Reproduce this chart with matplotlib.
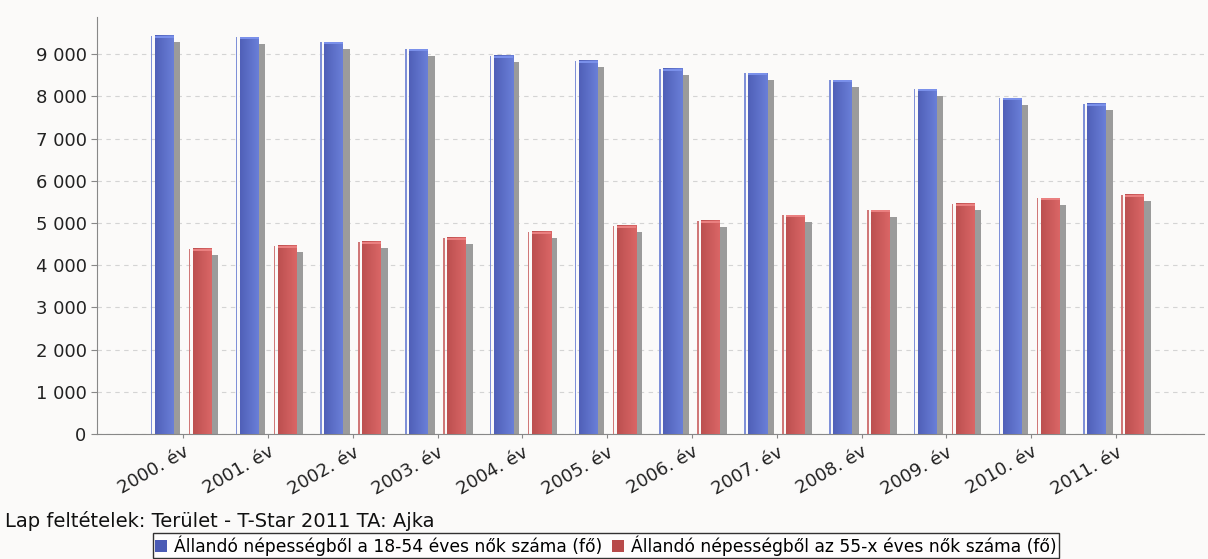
import matplotlib.pyplot as plt
import numpy as np
from matplotlib.patches import Patch, Rectangle
from matplotlib.colors import LinearSegmentedColormap
from matplotlib.ticker import FuncFormatter

# data
years = ["2000. év", "2001. év", "2002. év", "2003. év", "2004. év", "2005. év",
         "2006. év", "2007. év", "2008. év", "2009. év", "2010. év", "2011. év"]
women_18_54 = [9434, 9403, 9284, 9118, 8959, 8841, 8651, 8549, 8383, 8170, 7957, 7822]
women_55_x = [4385, 4456, 4551, 4653, 4796, 4937, 5056, 5182, 5302, 5452, 5587, 5672]
series_labels = ["Állandó népességből a 18-54 éves nők száma (fő)",
                 "Állandó népességből az 55-x éves nők száma (fő)"]
footer = "Lap feltételek: Terület - T-Star 2011 TA: Ajka"

bg = '#fbfaf9'
fig = plt.figure(figsize=(12.08, 5.59), dpi=100, facecolor=bg)
ax = fig.add_axes([97/1208, 125/559, 1107/1208, 417/559], facecolor=bg)

xmin, xmax = -1.018, 12.04
ymin, ymax = 0, 9880
# pixel -> data unit helpers
px_x = (xmax - xmin) / 1107
px_y = (ymax - ymin) / 417

x = np.arange(len(years))
w = 19 * px_x
off = 19 * px_x


def fancy_bars(xs, vals, c_left, c_right, c_top, c_stripe):
    cmap = LinearSegmentedColormap.from_list('g', [c_left, c_right])
    grad = np.linspace(0, 1, 32).reshape(1, -1)
    # shadow
    ax.bar(xs + 6.5 * px_x, np.array(vals) - 6.5 * px_y, width=w,
           color='#9b9b9b', zorder=2, linewidth=0)
    for xc, v in zip(xs, vals):
        ax.imshow(grad, cmap=cmap, extent=(xc - w/2, xc + w/2, 0, v),
                  aspect='auto', zorder=3, interpolation='bilinear')
        ax.add_patch(Rectangle((xc - w/2, v - 2 * px_y), w, 2 * px_y,
                               facecolor=c_top, edgecolor='none', zorder=4))
        ax.add_patch(Rectangle((xc - w/2 - 4 * px_x, 0), 1.5 * px_x, v,
                               facecolor=c_stripe, edgecolor='none', zorder=4))


fancy_bars(x - off, women_18_54, '#5060b8', '#6a7fd8', '#7a90ea', '#7f90d8')
fancy_bars(x + off, women_55_x, '#bc5050', '#da6666', '#ea8080', '#d07878')

ax.set_xlim(xmin, xmax)
ax.set_ylim(ymin, ymax)

ax.set_yticks(np.arange(0, 9001, 1000))
ax.yaxis.set_major_formatter(FuncFormatter(lambda v, p: f"{v:,.0f}".replace(",", " ")))
ax.set_xticks(x)
ax.set_xticklabels(years, rotation=30, ha='right', rotation_mode='anchor')
ax.tick_params(axis='y', labelsize=13, colors='#888888', labelcolor='#222222', length=4)
ax.tick_params(axis='x', labelsize=13, colors='#888888', labelcolor='#222222', length=3)

ax.yaxis.grid(True, linestyle=(0, (4, 4)), color='#d4d4d4', linewidth=0.8)
ax.set_axisbelow(True)
for s in ['top', 'right']:
    ax.spines[s].set_visible(False)
for s in ['left', 'bottom']:
    ax.spines[s].set_color('#888888')

fig.text(5/1208, (559-521)/559, footer, fontsize=14, va='center', color='#111111')

handles = [Patch(facecolor='#4b5bb5', edgecolor='none'),
           Patch(facecolor='#b84a4a', edgecolor='none')]
leg = fig.legend(handles, series_labels, loc='lower center', bbox_to_anchor=(606/1208, 0.0),
                 ncol=2, frameon=True, fancybox=False, edgecolor='black', facecolor='white',
                 fontsize=12.3, handlelength=0.7, handleheight=0.7, borderpad=0.15,
                 columnspacing=0.6, handletextpad=0.4, borderaxespad=0.05)
leg.get_frame().set_linewidth(1.0)

fig.savefig('out.png', dpi=100, facecolor=bg)
